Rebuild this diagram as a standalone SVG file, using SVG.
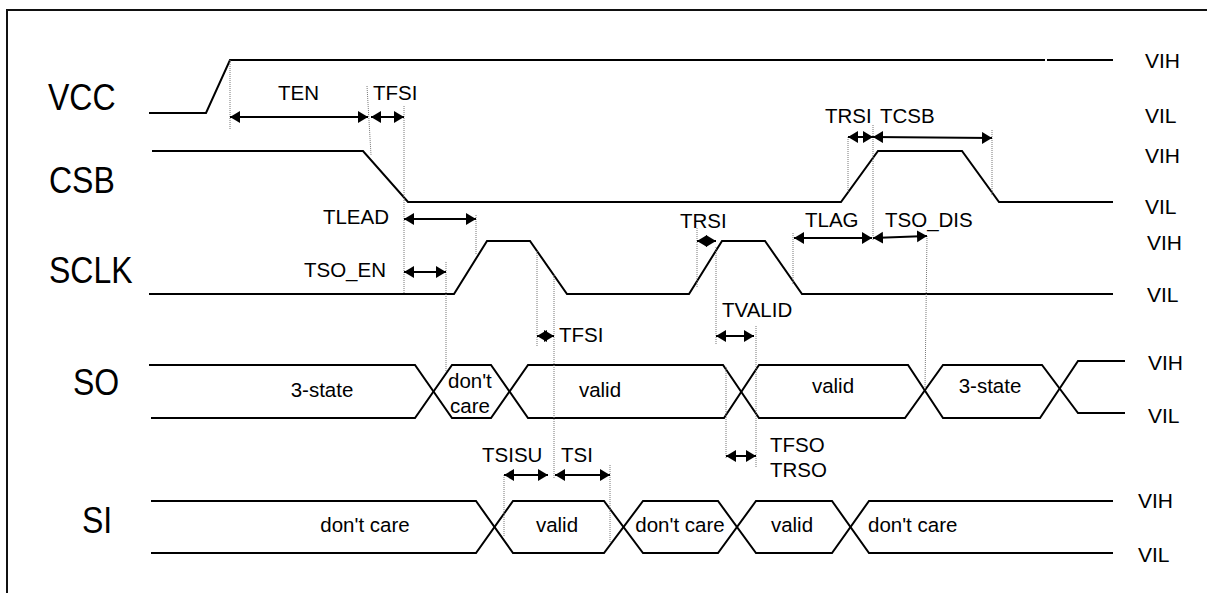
<svg xmlns="http://www.w3.org/2000/svg" width="1207" height="593" viewBox="0 0 1207 593">
<style>
.w{fill:none;stroke:#000;stroke-width:2;stroke-linejoin:miter}
.d{fill:none;stroke:#777;stroke-width:1;stroke-dasharray:1 1}
.a{fill:none;stroke:#000;stroke-width:2;marker-start:url(#ah);marker-end:url(#ah)}
.sig{font-family:"Liberation Sans",Arial,sans-serif;font-size:32px;fill:#000}
.lb{font-family:"Liberation Sans",Arial,sans-serif;font-size:20.5px;fill:#000}
.lv{font-family:"Liberation Sans",Arial,sans-serif;font-size:21px;fill:#000}
.c{text-anchor:middle}
.e{text-anchor:end}
</style>
<defs>
<marker id="ah" markerUnits="userSpaceOnUse" markerWidth="11" markerHeight="13" refX="10" refY="6" orient="auto-start-reverse">
<path d="M0,0 L10,6 L0,12 z" fill="#000"/>
</marker>
</defs>
<rect width="1207" height="593" fill="#fff"/>
<g id="frame"><path d="M7,593 V10 H1207" fill="none" stroke="#111" stroke-width="2"/></g>

<g id="vcc">
<text class="sig" transform="translate(48,110) scale(1,1.13)">VCC</text>
<path class="w" d="M149,113 L206,113 L230,60 L1045,60 M1047,60 L1113,60"/>
<text class="lv" x="1145" y="68">VIH</text>
<text class="lv" x="1145" y="123">VIL</text>
</g>

<g id="csb">
<text class="sig" transform="translate(49,193) scale(1,1.13)">CSB</text>
<path class="w" d="M152,151 L363,151 L408,202 L841,202 L878,151 L962,151 L999,202 L1113,202"/>
<text class="lv" x="1145" y="163">VIH</text>
<text class="lv" x="1145" y="214">VIL</text>
</g>

<g id="sclk">
<text class="sig" transform="translate(49,283) scale(1,1.13)">SCLK</text>
<path class="w" d="M149,294 L454,294 L487,241 L530,241 L567,294 L689,294 L722,241 L765,241 L802,294 L1113,294"/>
<text class="lv" x="1147" y="250">VIH</text>
<text class="lv" x="1147" y="302">VIL</text>
</g>

<g id="so">
<text class="sig" transform="translate(73,395) scale(1,1.13)">SO</text>
<path class="w" d="M149,365 L415,365 L452,418 L491,418 L528,365 L723,365 L759,418 L905,418 L943,365 L1042,365 L1078,413 L1125,413"/>
<path class="w" d="M151,418 L415,418 L452,365 L491,365 L528,418 L724,418 L759,365 L908,365 L943,418 L1040,418 L1078,361 L1125,361"/>
<text class="lb c" x="322" y="397">3-state</text>
<text class="lb" x="448" y="388">don't</text>
<text class="lb" x="450" y="413">care</text>
<text class="lb c" x="600" y="397">valid</text>
<text class="lb c" x="833" y="393">valid</text>
<text class="lb c" x="990" y="393">3-state</text>
<text class="lv" x="1148" y="370">VIH</text>
<text class="lv" x="1148" y="423">VIL</text>
</g>

<g id="si">
<text class="sig" transform="translate(82,533) scale(1,1.13)">SI</text>
<path class="w" d="M151,501 L476,501 L513,553 L604,553 L643,501 L718,501 L756,553 L832,553 L869,501 L1113,501"/>
<path class="w" d="M151,553 L476,553 L513,501 L604,501 L643,553 L718,553 L756,501 L832,501 L869,553 L1113,553"/>
<text class="lb c" x="365" y="532">don't care</text>
<text class="lb c" x="557" y="532">valid</text>
<text class="lb c" x="680" y="532">don't care</text>
<text class="lb c" x="792" y="532">valid</text>
<text class="lb" x="868" y="532">don't care</text>
<text class="lv" x="1138" y="508">VIH</text>
<text class="lv" x="1138" y="562">VIL</text>
</g>

<g id="connectors">
<g id="guides">
<path class="d" d="M230,60 V130"/>
<path class="d" d="M367,86 L371,155"/>
<path class="d" d="M404,106 V294"/>
<path class="d" d="M446,262 V372"/>
<path class="d" d="M476,215 V255"/>
<path class="d" d="M537,251 V347"/>
<path class="d" d="M554,275 V478"/>
<path class="d" d="M697,228 V287"/>
<path class="d" d="M716,247 V345"/>
<path class="d" d="M726,367 V458"/>
<path class="d" d="M756,326 V468"/>
<path class="d" d="M793,233 V285"/>
<path class="d" d="M848,137 V192"/>
<path class="d" d="M873,125 V240"/>
<path class="d" d="M992,130 V195"/>
<path class="d" d="M927,236 L925,390"/>
<path class="d" d="M504,475 V537"/>
<path class="d" d="M610,465 V543"/>
</g>
<g id="arrows">
<path class="a" d="M230,117 H368"/>
<path class="a" d="M371,117 H404"/>
<path class="a" d="M848,137 H873"/>
<path class="a" d="M873,137 L992,138"/>
<path class="a" d="M404,219 H476"/>
<path class="a" d="M404,272 H446"/>
<path class="a" d="M697,241 H716"/>
<path class="a" d="M794,238 H872"/>
<path class="a" d="M873,238 L927,236"/>
<path class="a" d="M537,336 H554"/>
<path class="a" d="M716,336 H754"/>
<path class="a" d="M726,456 H756"/>
<path class="a" d="M504,475 H548"/>
<path class="a" d="M555,475 H610"/>
</g>
<g id="timing-labels">
<text class="lb" x="278" y="100">TEN</text>
<text class="lb" x="373" y="100">TFSI</text>
<text class="lb" x="825" y="123">TRSI</text>
<text class="lb" x="880" y="123">TCSB</text>
<text class="lb e" x="389" y="224">TLEAD</text>
<text class="lb e" x="386" y="277">TSO_EN</text>
<text class="lb" x="680" y="228">TRSI</text>
<text class="lb" x="805" y="227">TLAG</text>
<text class="lb" x="885" y="227">TSO_DIS</text>
<text class="lb" x="559" y="342">TFSI</text>
<text class="lb" x="722" y="317">TVALID</text>
<text class="lb" x="770" y="452">TFSO</text>
<text class="lb" x="770" y="477">TRSO</text>
<text class="lb" x="482" y="462">TSISU</text>
<text class="lb" x="561" y="462">TSI</text>
</g>
</g>
</svg>
